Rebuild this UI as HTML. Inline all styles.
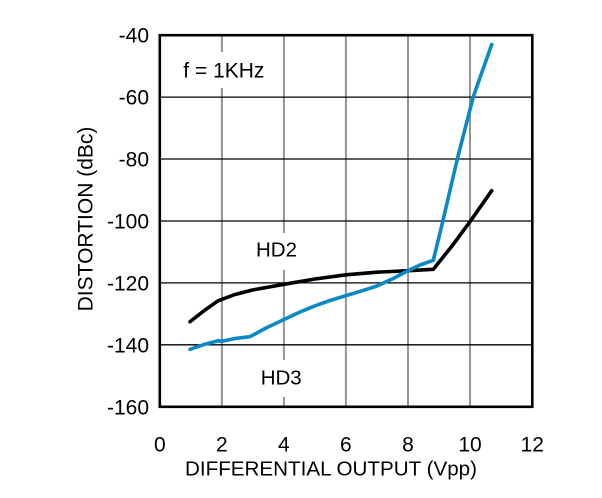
<!DOCTYPE html>
<html><head><meta charset="utf-8"><style>
html,body{margin:0;padding:0;background:#fff;}
svg{display:block;}
text{font-family:"Liberation Sans",Arial,sans-serif;fill:#000;}
</style></head><body>
<svg width="602" height="498" viewBox="0 0 602 498" xmlns="http://www.w3.org/2000/svg">
<rect width="602" height="498" fill="#fff"/>
<!-- vertical gridlines -->
<g stroke="#959595" stroke-width="2">
<line x1="221.9" y1="35" x2="221.9" y2="52"/>
<line x1="221.9" y1="88" x2="221.9" y2="407"/>
<line x1="283.9" y1="35" x2="283.9" y2="233"/>
<line x1="283.9" y1="270" x2="283.9" y2="360"/>
<line x1="283.9" y1="397" x2="283.9" y2="407"/>
<line x1="345.9" y1="35" x2="345.9" y2="407"/>
<line x1="408" y1="35" x2="408" y2="407"/>
<line x1="470" y1="35" x2="470" y2="407"/>
</g>
<!-- horizontal gridlines -->
<g stroke="#000" stroke-width="1.3">
<line x1="160" y1="97.1" x2="532" y2="97.1"/>
<line x1="160" y1="159" x2="532" y2="159"/>
<line x1="160" y1="221" x2="532" y2="221"/>
<line x1="160" y1="282.9" x2="532" y2="282.9"/>
<line x1="160" y1="344.8" x2="532" y2="344.8"/>
</g>
<!-- frame -->
<rect x="159.8" y="35.2" width="372.5" height="371.6" fill="none" stroke="#000" stroke-width="2.6"/>
<!-- HD2 black -->
<polyline fill="none" stroke="#000" stroke-width="3.6" stroke-linejoin="round" stroke-linecap="round"
points="190,321.7 205,310 218.3,300.7 235,294.5 252.5,290 284,284.3 315,279 346,274.8 377,272.2 408,270.7 433.3,269.3 452,246 470,221.7 491.7,190.7"/>
<!-- HD3 blue -->
<polyline fill="none" stroke="#0b88c6" stroke-width="3.6" stroke-linejoin="round" stroke-linecap="round"
points="190,349.3 205,344.2 218.3,340.7 222,341.3 235,338.5 250,336.7 266,328 284,319.5 300,312 315,305.8 330,300.5 346,295.6 362,290.8 377,286 393,278.6 408,270.6 420,265 433.3,260.3 442.7,221.7 457.3,159 473.3,96.7 491.7,44.5"/>
<!-- labels inside -->
<text x="183.3" y="77.3" font-size="21">f = 1KHz</text>
<text x="256" y="256.7" font-size="20.5">HD2</text>
<text x="260.7" y="384.3" font-size="20.5">HD3</text>
<!-- y tick labels -->
<g font-size="21" text-anchor="end">
<text x="149" y="42.7">-40</text>
<text x="149" y="104.6">-60</text>
<text x="149" y="166.5">-80</text>
<text x="149" y="228.5">-100</text>
<text x="149" y="290.4">-120</text>
<text x="149" y="352.3">-140</text>
<text x="149" y="414.3">-160</text>
</g>
<!-- x tick labels -->
<g font-size="21" text-anchor="middle">
<text x="159.8" y="451.7">0</text>
<text x="221.9" y="451.7">2</text>
<text x="283.9" y="451.7">4</text>
<text x="345.9" y="451.7">6</text>
<text x="408" y="451.7">8</text>
<text x="470" y="451.7">10</text>
<text x="532.3" y="451.7">12</text>
</g>
<!-- axis titles -->
<text x="185" y="475.3" font-size="20.5" textLength="292" lengthAdjust="spacingAndGlyphs">DIFFERENTIAL OUTPUT (Vpp)</text>
<text transform="translate(92.3,219) rotate(-90)" font-size="21" text-anchor="middle">DISTORTION (dBc)</text>
</svg>
</body></html>
